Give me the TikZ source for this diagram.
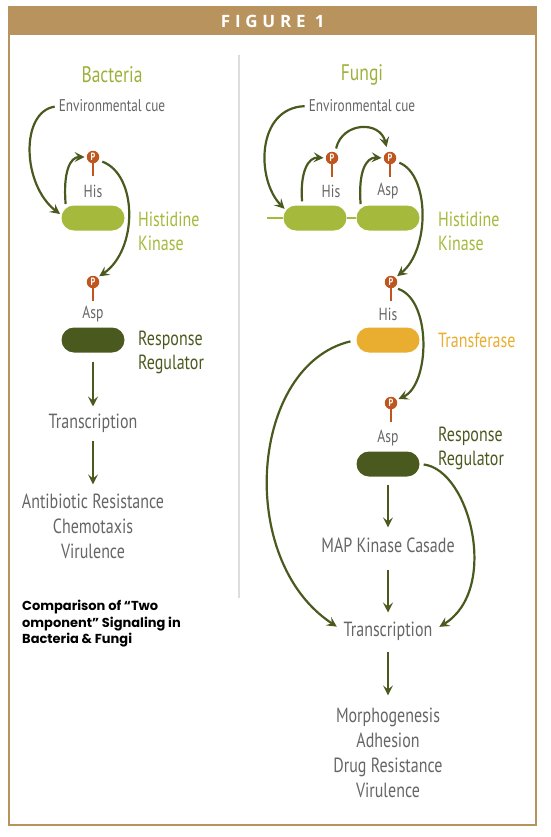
\documentclass[tikz,border=0pt]{standalone}
\usepackage{fontspec}
\setmainfont{PT Sans}[FakeStretch=0.78]
\newfontfamily\headfont{Open Sans}[LetterSpace=28]
\newfontfamily\capfont{Poppins}
\usetikzlibrary{arrows.meta, positioning, shapes.misc}

\definecolor{framebrown}{HTML}{B8935E}
\definecolor{kinasegreen}{HTML}{A5B93C}
\definecolor{titlegreen}{HTML}{9CB13A}
\definecolor{regdark}{HTML}{4A5A1F}
\definecolor{transorange}{HTML}{E9AE2F}
\definecolor{phosred}{HTML}{BF5620}
\definecolor{labelgray}{HTML}{666666}
\definecolor{divgray}{HTML}{DDDDDD}

\begin{document}
\begin{tikzpicture}[
        x=1pt, y=1pt,
        every node/.style={inner sep=0pt, text=labelgray},
        bar/.style={rounded rectangle, minimum width=63pt, minimum height=25pt},
        phos/.style={circle, fill=phosred, minimum size=12.5pt, text=white, font=\bfseries\fontsize{10.5}{10.5}\selectfont},
        stem/.style={draw=phosred, line width=1.6pt},
        arr/.style={draw=regdark, line width=2.2pt, shorten <=4pt, shorten >=2pt, -{Stealth[length=10pt, width=10pt, inset=4pt]}},
        heading/.style={text=titlegreen, font=\fontsize{22.5}{26}\selectfont},
        cue/.style={font=\fontsize{17}{20}\selectfont},
        residue/.style={font=\fontsize{17.5}{20}\selectfont},
        proc/.style={font=\fontsize{20.5}{25}\selectfont, align=center},
        tag/.style={anchor=west, align=left, font=\fontsize{20.5}{24}\selectfont}
    ]
    \useasboundingbox (0,0) rectangle (550,-837);

    % frame and header
    \draw[framebrown, line width=1.5pt] (9,-7) rectangle (536,-825);
    \node[fill=framebrown, minimum width=527pt, minimum height=28pt, anchor=north west,
          text=white, font=\headfont\bfseries\fontsize{17}{17}\selectfont] (header) at (9,-7) {FIGURE 1};
    \draw[divgray, line width=1.5pt] (239,-55) -- (239,-598);

    % bacteria
    \node[heading] (bact) at (112,-75) {Bacteria};
    \node[cue] (envB) at (112,-106) {Environmental cue};
    \node[bar, fill=kinasegreen] (hkB) at (93,-218) {};
    \node[residue] (hisB) at (93,-191) {His};
    \node[phos] (pHB) at (93,-157) {P};
    \node[tag, text=kinasegreen] (hkLabB) at (138,-231) {Histidine\\Kinase};
    \node[phos] (pAB) at (93,-282) {P};
    \node[residue] (aspB) at (93,-314) {Asp};
    \node[bar, fill=regdark] (rrB) at (93,-340) {};
    \node[tag, text=regdark] (rrLabB) at (138,-352) {Response\\Regulator};
    \node[proc] (trB) at (93,-423) {Transcription};
    \node[proc] (outB) at (93,-526) {Antibiotic Resistance\\Chemotaxis\\Virulence};

    \draw[stem] (pHB.south) -- ++(0,-13);
    \draw[stem] (pAB.south) -- ++(0,-13);
    \draw[arr] (envB.west) .. controls (20,-112) and (22,-185) .. (hkB.175);
    \draw[arr] (hkB.160) .. controls (63,-172) and (70,-157) .. (pHB.west);
    \draw[arr] (pHB.-30) .. controls (138,-175) and (138,-250) .. (pAB.45);
    \draw[arr, shorten <=9pt, shorten >=7pt] (rrB.south) -- (trB.north);
    \draw[arr, shorten <=8pt, shorten >=9pt] (trB.south) -- (outB.north);

    % fungi
    \node[heading] (fungi) at (362,-75) {Fungi};
    \node[cue] (envF) at (362,-106) {Environmental cue};
    \coordinate (tmF) at (267,-218);
    \node[bar, fill=kinasegreen] (hkF1) at (315,-218) {};
    \node[bar, fill=kinasegreen] (hkF2) at (388,-218) {};
    \node[residue] (hisF) at (331,-191) {His};
    \node[residue] (aspF) at (388,-191) {Asp};
    \node[phos] (pHF) at (332,-158) {P};
    \node[phos] (pAF) at (390,-158) {P};
    \node[tag, text=kinasegreen] (hkLabF) at (438,-231) {Histidine\\Kinase};
    \node[phos] (pHT) at (391,-282) {P};
    \node[residue] (hisT) at (388,-314) {His};
    \node[bar, fill=transorange] (trans) at (388,-340) {};
    \node[tag, text=transorange] (transLab) at (438,-340) {Transferase};
    \node[phos] (pAR) at (391,-403) {P};
    \node[residue] (aspR) at (388,-438) {Asp};
    \node[bar, fill=regdark] (rrF) at (388,-464) {};
    \node[tag, text=regdark] (rrLabF) at (438,-448) {Response\\Regulator};
    \node[proc] (mapF) at (388,-545) {MAP Kinase Casade};
    \node[proc] (trF) at (388,-631) {Transcription};
    \node[proc] (outF) at (388,-752.5) {Morphogenesis\\Adhesion\\Drug Resistance\\Virulence};

    \draw[kinasegreen, line width=2pt] (tmF) -- (hkF1.west) (hkF1.east) -- (hkF2.west);
    \draw[stem] (pHF.south) -- ++(0,-13);
    \draw[stem] (pAF.south) -- ++(0,-13);
    \draw[stem] (pHT.south) -- ++(0,-13);
    \draw[stem] (pAR.south) -- ++(0,-13);
    \draw[arr] (envF.west) .. controls (256,-108) and (256,-180) .. (hkF1.165);
    \draw[arr] (hkF1.135) .. controls (300,-172) and (308,-157) .. (pHF.west);
    \draw[arr] (hkF2.160) .. controls (358,-172) and (366,-157) .. (pAF.west);
    \draw[arr, shorten >=5pt] (pHF.60) .. controls (342,-122) and (380,-120) .. (pAF.110);
    \draw[arr] (pAF.-30) .. controls (430,-175) and (430,-250) .. (pHT.45);
    \draw[arr] (pHT.-60) .. controls (432,-300) and (430,-385) .. (pAR.30);
    \draw[arr, shorten <=8pt, shorten >=10pt] (rrF.south) -- (mapF.north);
    \draw[arr, shorten <=17pt, shorten >=9pt] (mapF.south) -- (trF.north);
    \draw[arr, shorten <=11pt, shorten >=12pt] (trF.south) -- (outF.north);
    \draw[arr, shorten <=6pt, shorten >=8pt] (trans.west) .. controls (250,-365) and (235,-560) .. (trF.west);
    \draw[arr, shorten <=4pt, shorten >=8pt] (rrF.east) .. controls (470,-470) and (500,-590) .. (trF.east);

    % caption
    \node[anchor=north west, align=left, text=black, font=\capfont\bfseries\fontsize{13}{16.5}\selectfont] (caption) at (22,-600) {Comparison of “Two\\omponent” Signaling in\\Bacteria \& Fungi};
\end{tikzpicture}
\end{document}
